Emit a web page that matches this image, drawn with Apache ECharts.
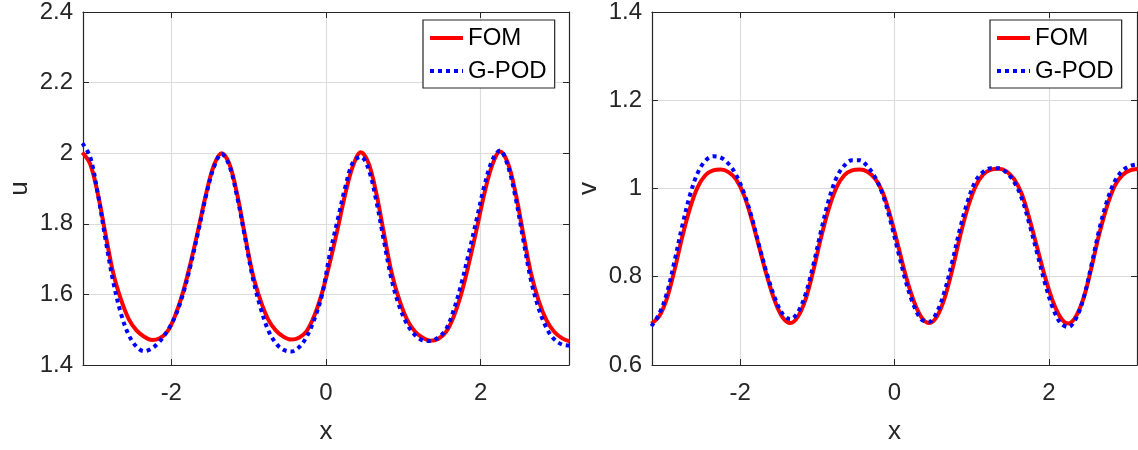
<!DOCTYPE html>
<html><head><meta charset="utf-8">
<script src="https://cdn.jsdelivr.net/npm/echarts@6/dist/echarts.min.js"></script>
<style>html,body{margin:0;padding:0;background:#fff}#c{width:1138px;height:450px}</style>
</head><body><div id="c"></div>
<script>
// sample positions along x (the axis shows -pi..pi)
const xs = [-3.15,-3.05,-2.95,-2.85,-2.75,-2.65,-2.55,-2.45,-2.35,-2.25,-2.15,-2.05,-1.95,-1.85,-1.75,-1.65,-1.55,-1.45,-1.35,-1.25,-1.15,-1.05,-0.95,-0.85,-0.75,-0.65,-0.55,-0.45,-0.35,-0.25,-0.15,-0.05,0.05,0.15,0.25,0.35,0.45,0.55,0.65,0.75,0.85,0.95,1.05,1.15,1.25,1.35,1.45,1.55,1.65,1.75,1.85,1.95,2.05,2.15,2.25,2.35,2.45,2.55,2.65,2.75,2.85,2.95,3.05,3.15];
const uFOM = [2.002,1.97,1.885,1.77,1.66,1.585,1.53,1.498,1.48,1.471,1.476,1.495,1.54,1.605,1.69,1.785,1.885,1.965,2.0,1.97,1.885,1.77,1.66,1.585,1.53,1.498,1.48,1.472,1.477,1.496,1.54,1.605,1.69,1.785,1.885,1.965,2.003,1.972,1.887,1.772,1.66,1.583,1.528,1.495,1.477,1.469,1.474,1.493,1.537,1.603,1.69,1.787,1.888,1.967,2.005,1.973,1.888,1.772,1.66,1.582,1.527,1.494,1.476,1.467];
const uGPOD = [2.028,1.99,1.885,1.755,1.635,1.545,1.485,1.452,1.439,1.447,1.467,1.497,1.538,1.6,1.683,1.78,1.88,1.96,1.998,1.965,1.878,1.765,1.65,1.565,1.5,1.462,1.443,1.438,1.45,1.48,1.53,1.6,1.715,1.81,1.905,1.975,1.99,1.955,1.865,1.75,1.64,1.565,1.515,1.485,1.47,1.468,1.478,1.5,1.555,1.63,1.72,1.815,1.91,1.98,2.008,1.965,1.875,1.755,1.64,1.56,1.505,1.473,1.458,1.455];
const vFOM = [0.694,0.71,0.75,0.815,0.89,0.955,1.003,1.03,1.041,1.043,1.037,1.02,0.985,0.93,0.865,0.8,0.745,0.708,0.695,0.71,0.75,0.815,0.89,0.955,1.003,1.03,1.041,1.043,1.038,1.022,0.99,0.935,0.868,0.8,0.745,0.708,0.695,0.71,0.752,0.817,0.892,0.957,1.005,1.032,1.043,1.045,1.039,1.021,0.987,0.93,0.865,0.8,0.745,0.708,0.694,0.71,0.752,0.82,0.895,0.958,1.005,1.03,1.041,1.044];
const vGPOD = [0.688,0.715,0.762,0.835,0.915,0.985,1.035,1.063,1.073,1.07,1.056,1.03,0.99,0.935,0.868,0.805,0.752,0.716,0.704,0.72,0.762,0.828,0.905,0.975,1.025,1.052,1.064,1.064,1.05,1.025,0.985,0.925,0.855,0.787,0.735,0.703,0.698,0.72,0.768,0.835,0.91,0.972,1.017,1.038,1.046,1.046,1.036,1.015,0.977,0.918,0.852,0.785,0.73,0.695,0.686,0.705,0.752,0.825,0.905,0.97,1.015,1.04,1.051,1.055];
const xTicks = [-2, 0, 2];
const seriesNames = ['FOM', 'G-POD'];
const xName = 'x';
const yNames = ['u', 'v'];

const FONT = '"Liberation Sans", Arial, Helvetica, sans-serif';
const AX = '#262626';
const GRIDC = '#dcdcdc';

function pairs(ys) { return xs.map((x, i) => [x, ys[i]]); }

function xAxes(gi) {
  return [
    {
      type: 'value', gridIndex: gi, position: 'bottom', min: -Math.PI, max: Math.PI,
      axisLine: { onZero: false, lineStyle: { color: AX, width: 1.2 } },
      axisTick: { inside: true, length: 6, customValues: xTicks, lineStyle: { color: AX } },
      axisLabel: { customValues: xTicks, fontSize: 24, color: AX, margin: 16, fontFamily: FONT },
      splitLine: { show: true, lineStyle: { color: GRIDC, width: 1.2 } },
      name: xName, nameLocation: 'middle', nameGap: 54,
      nameTextStyle: { fontSize: 26, color: AX, fontFamily: FONT }
    },
    {
      type: 'value', gridIndex: gi, position: 'top', min: -Math.PI, max: Math.PI,
      axisLine: { onZero: false, lineStyle: { color: AX, width: 1.2 } },
      axisTick: { inside: true, length: 6, customValues: xTicks, lineStyle: { color: AX } },
      axisLabel: { show: false }, splitLine: { show: false }
    }
  ];
}
function yAxes(gi, mn, mx, name) {
  return [
    {
      type: 'value', gridIndex: gi, position: 'left', min: mn, max: mx, interval: 0.2,
      axisLine: { show: true, onZero: false, lineStyle: { color: AX, width: 1.2 } },
      axisTick: { show: true, inside: true, length: 6, lineStyle: { color: AX } },
      axisLabel: { fontSize: 24, color: AX, margin: 10, fontFamily: FONT,
        formatter: v => String(Math.round(v * 10) / 10) },
      splitLine: { show: true, lineStyle: { color: GRIDC, width: 1.2 } },
      name: name, nameLocation: 'middle', nameGap: 50,
      nameTextStyle: { fontSize: 26, color: AX, fontFamily: FONT }
    },
    {
      type: 'value', gridIndex: gi, position: 'right', min: mn, max: mx, interval: 0.2,
      axisLine: { show: true, onZero: false, lineStyle: { color: AX, width: 1.2 } },
      axisTick: { show: true, inside: true, length: 6, lineStyle: { color: AX } },
      axisLabel: { show: false }, splitLine: { show: false }
    }
  ];
}
function lineSeries(name, data, xi, yi, color, dash) {
  return {
    type: 'line', name: name, data: pairs(data), xAxisIndex: xi, yAxisIndex: yi,
    symbol: 'none', showSymbol: false, smooth: 0.35, clip: true,
    lineStyle: { color: color, width: 4, type: dash ? [4, 4] : 'solid', cap: 'butt' },
    itemStyle: { color: color }, z: dash ? 3 : 2
  };
}
function legend(left) {
  return {
    data: seriesNames, orient: 'vertical', left: left, top: 20,
    itemWidth: 33, itemHeight: 20, itemGap: 7,
    padding: [5, 8, 4, 5],
    borderColor: AX, borderWidth: 1.2, backgroundColor: '#fff',
    itemStyle: { opacity: 0, borderWidth: 0 },
    lineStyle: { width: 4 },
    textStyle: { fontSize: 24, color: '#000', fontFamily: FONT, lineHeight: 26 },
    selectedMode: false
  };
}

const chart = echarts.init(document.getElementById('c'), null, { renderer: 'canvas' });
chart.setOption({
  animation: false,
  backgroundColor: '#fff',
  grid: [
    { left: 83, top: 10, width: 486, height: 357 },
    { left: 652, top: 10, width: 485, height: 357 }
  ],
  xAxis: [...xAxes(0), ...xAxes(1)],
  yAxis: [...yAxes(0, 1.4, 2.4, yNames[0]), ...yAxes(1, 0.6, 1.4, yNames[1])],
  legend: [legend(423), legend(990)],
  series: [
    lineSeries(seriesNames[0], uFOM, 0, 0, '#ff0000', false),
    lineSeries(seriesNames[1], uGPOD, 0, 0, '#0000ff', true),
    lineSeries(seriesNames[0], vFOM, 2, 2, '#ff0000', false),
    lineSeries(seriesNames[1], vGPOD, 2, 2, '#0000ff', true)
  ]
});
</script></body></html>
